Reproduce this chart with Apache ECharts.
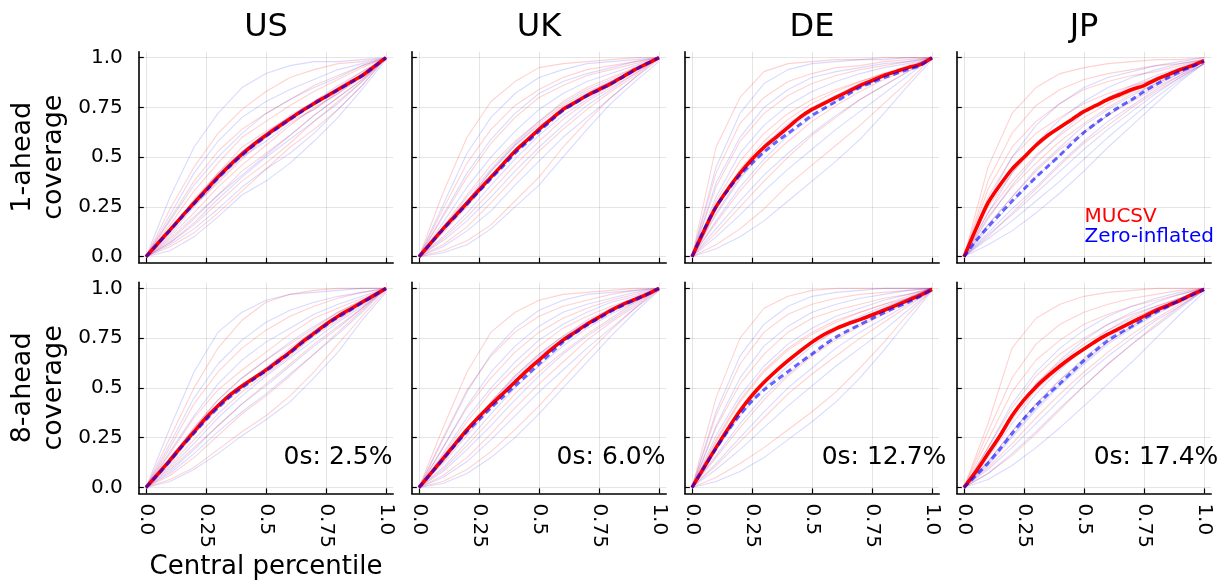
<!DOCTYPE html>
<html>
<head>
<meta charset="utf-8">
<script src="https://cdn.jsdelivr.net/npm/echarts@6/dist/echarts.min.js"></script>
<style>
  html, body { margin: 0; padding: 0; background: #ffffff; }
  #chart { width: 1226px; height: 585px; }
</style>
</head>
<body>
<div id="chart"></div>
<script>
// ---- labels ----
const countries = ['US', 'UK', 'DE', 'JP'];
const horizonNames = ['1-ahead\ncoverage', '8-ahead\ncoverage'];
const zeroShares = ['0s: 2.5%', '0s: 6.0%', '0s: 12.7%', '0s: 17.4%'];
const tickValues = [0, 0.25, 0.5, 0.75, 1];
const tickLabels = ['0.0', '0.25', '0.5', '0.75', '1.0'];
const seriesNames = ['MUCSV', 'Zero-inflated'];

// nominal central percentile grids
const meanGrid = [0, 0.05, 0.1, 0.15, 0.2, 0.25, 0.3, 0.35, 0.4, 0.45, 0.5, 0.55, 0.6, 0.65, 0.7, 0.75, 0.8, 0.85, 0.9, 0.95, 1];
const pathGrid = [0, 0.1, 0.2, 0.3, 0.4, 0.5, 0.6, 0.7, 0.8, 0.9, 1];

// ---- average empirical coverage, 1-step ahead ----
const usMucsv1 = [0, 0.068, 0.135, 0.203, 0.27, 0.335, 0.4, 0.46, 0.515, 0.565, 0.61, 0.652, 0.693, 0.733, 0.77, 0.805, 0.84, 0.875, 0.91, 0.955, 1.0];
const usZero1  = [0, 0.066, 0.132, 0.2, 0.266, 0.33, 0.395, 0.455, 0.51, 0.56, 0.605, 0.648, 0.69, 0.73, 0.768, 0.803, 0.838, 0.873, 0.908, 0.953, 1.0];
const ukMucsv1 = [0, 0.07, 0.14, 0.205, 0.27, 0.335, 0.4, 0.465, 0.53, 0.585, 0.64, 0.69, 0.74, 0.775, 0.81, 0.84, 0.87, 0.905, 0.94, 0.97, 1.0];
const ukZero1  = [0, 0.068, 0.137, 0.2, 0.264, 0.328, 0.392, 0.455, 0.52, 0.575, 0.63, 0.683, 0.735, 0.772, 0.808, 0.838, 0.868, 0.903, 0.938, 0.97, 1.0];
const deMucsv1 = [0, 0.13, 0.25, 0.34, 0.42, 0.49, 0.55, 0.6, 0.65, 0.7, 0.74, 0.77, 0.8, 0.83, 0.86, 0.885, 0.91, 0.93, 0.95, 0.965, 1.0];
const deZero1  = [0, 0.135, 0.25, 0.335, 0.41, 0.47, 0.525, 0.575, 0.62, 0.665, 0.71, 0.745, 0.78, 0.815, 0.85, 0.875, 0.9, 0.92, 0.94, 0.96, 1.0];
const jpMucsv1 = [0, 0.14, 0.27, 0.36, 0.44, 0.5, 0.56, 0.61, 0.65, 0.69, 0.73, 0.76, 0.79, 0.815, 0.84, 0.86, 0.89, 0.915, 0.94, 0.96, 0.985];
const jpZero1  = [0, 0.08, 0.15, 0.215, 0.28, 0.34, 0.4, 0.455, 0.51, 0.57, 0.625, 0.67, 0.715, 0.755, 0.79, 0.83, 0.865, 0.9, 0.93, 0.955, 0.98];

// ---- average empirical coverage, 8-step ahead ----
const usMucsv8 = [0, 0.068, 0.137, 0.21, 0.28, 0.35, 0.41, 0.465, 0.51, 0.55, 0.59, 0.635, 0.68, 0.73, 0.775, 0.82, 0.86, 0.895, 0.93, 0.965, 1.0];
const usZero8  = [0, 0.065, 0.133, 0.205, 0.272, 0.34, 0.4, 0.455, 0.5, 0.545, 0.585, 0.63, 0.675, 0.725, 0.77, 0.815, 0.855, 0.89, 0.928, 0.963, 1.0];
const ukMucsv8 = [0, 0.072, 0.145, 0.218, 0.29, 0.355, 0.415, 0.472, 0.53, 0.587, 0.64, 0.692, 0.74, 0.78, 0.82, 0.855, 0.89, 0.92, 0.945, 0.97, 1.0];
const ukZero8  = [0, 0.07, 0.141, 0.212, 0.28, 0.34, 0.4, 0.455, 0.51, 0.565, 0.62, 0.675, 0.73, 0.775, 0.815, 0.85, 0.885, 0.915, 0.942, 0.97, 1.0];
const deMucsv8 = [0, 0.1, 0.2, 0.295, 0.385, 0.462, 0.528, 0.585, 0.637, 0.685, 0.73, 0.768, 0.798, 0.822, 0.843, 0.866, 0.89, 0.915, 0.94, 0.965, 0.995];
const deZero8  = [0, 0.1, 0.195, 0.285, 0.365, 0.435, 0.49, 0.537, 0.582, 0.627, 0.67, 0.715, 0.755, 0.788, 0.818, 0.848, 0.878, 0.905, 0.93, 0.96, 0.995];
const jpMucsv8 = [0, 0.08, 0.17, 0.26, 0.36, 0.44, 0.505, 0.56, 0.61, 0.655, 0.695, 0.735, 0.77, 0.8, 0.83, 0.86, 0.89, 0.915, 0.94, 0.97, 0.995];
const jpZero8  = [0, 0.06, 0.122, 0.193, 0.27, 0.345, 0.41, 0.468, 0.522, 0.58, 0.638, 0.69, 0.738, 0.775, 0.81, 0.847, 0.88, 0.91, 0.94, 0.965, 0.995];

// ---- per-variable coverage paths, 1-step ahead ----
const usMucsvPaths1 = [
  [0, 0.24, 0.45, 0.62, 0.74, 0.83, 0.90, 0.94, 0.97, 0.98, 1],
  [0, 0.19, 0.38, 0.53, 0.64, 0.72, 0.79, 0.86, 0.91, 0.96, 1],
  [0, 0.16, 0.33, 0.47, 0.60, 0.68, 0.76, 0.83, 0.89, 0.95, 1],
  [0, 0.14, 0.26, 0.37, 0.49, 0.60, 0.68, 0.74, 0.83, 0.91, 1],
  [0, 0.10, 0.22, 0.35, 0.46, 0.56, 0.66, 0.75, 0.82, 0.90, 1],
  [0, 0.08, 0.19, 0.31, 0.43, 0.52, 0.61, 0.71, 0.80, 0.89, 1],
  [0, 0.07, 0.16, 0.27, 0.38, 0.47, 0.57, 0.68, 0.78, 0.88, 1],
  [0, 0.12, 0.29, 0.42, 0.55, 0.63, 0.70, 0.77, 0.85, 0.93, 0.99],
  [0, 0.05, 0.12, 0.22, 0.33, 0.44, 0.55, 0.64, 0.74, 0.86, 1]
];
const usZeroPaths1 = [
  [0, 0.30, 0.55, 0.72, 0.85, 0.92, 0.96, 0.98, 0.98, 0.99, 1],
  [0, 0.21, 0.42, 0.58, 0.70, 0.78, 0.84, 0.89, 0.94, 0.97, 1],
  [0, 0.18, 0.36, 0.50, 0.62, 0.72, 0.79, 0.85, 0.90, 0.96, 1],
  [0, 0.13, 0.28, 0.42, 0.53, 0.62, 0.71, 0.78, 0.86, 0.93, 1],
  [0, 0.11, 0.25, 0.38, 0.50, 0.58, 0.67, 0.74, 0.82, 0.91, 1],
  [0, 0.07, 0.17, 0.29, 0.40, 0.50, 0.59, 0.68, 0.77, 0.88, 1],
  [0, 0.06, 0.14, 0.24, 0.35, 0.44, 0.52, 0.62, 0.74, 0.86, 1],
  [0, 0.09, 0.20, 0.31, 0.41, 0.51, 0.61, 0.71, 0.80, 0.89, 1],
  [0, 0.03, 0.10, 0.20, 0.31, 0.38, 0.47, 0.58, 0.70, 0.84, 0.99]
];
const ukMucsvPaths1 = [
  [0, 0.32, 0.60, 0.78, 0.88, 0.95, 0.97, 0.98, 0.99, 1, 1],
  [0, 0.24, 0.47, 0.64, 0.76, 0.84, 0.90, 0.94, 0.96, 0.98, 1],
  [0, 0.20, 0.40, 0.57, 0.70, 0.80, 0.86, 0.91, 0.94, 0.97, 1],
  [0, 0.13, 0.28, 0.43, 0.56, 0.67, 0.76, 0.83, 0.88, 0.94, 1],
  [0, 0.12, 0.25, 0.40, 0.53, 0.65, 0.75, 0.82, 0.88, 0.94, 1],
  [0, 0.09, 0.20, 0.33, 0.46, 0.58, 0.69, 0.78, 0.85, 0.92, 1],
  [0, 0.06, 0.15, 0.27, 0.40, 0.53, 0.64, 0.74, 0.83, 0.91, 1],
  [0, 0.15, 0.31, 0.46, 0.58, 0.68, 0.78, 0.85, 0.90, 0.95, 1],
  [0, 0.03, 0.08, 0.16, 0.28, 0.40, 0.55, 0.68, 0.80, 0.90, 0.99]
];
const ukZeroPaths1 = [
  [0, 0.26, 0.52, 0.70, 0.82, 0.90, 0.94, 0.97, 0.98, 0.99, 1],
  [0, 0.21, 0.42, 0.59, 0.72, 0.82, 0.88, 0.92, 0.95, 0.98, 1],
  [0, 0.17, 0.35, 0.50, 0.63, 0.74, 0.82, 0.88, 0.92, 0.96, 1],
  [0, 0.14, 0.30, 0.44, 0.57, 0.68, 0.77, 0.84, 0.89, 0.95, 1],
  [0, 0.10, 0.22, 0.36, 0.49, 0.61, 0.71, 0.79, 0.86, 0.93, 1],
  [0, 0.08, 0.18, 0.30, 0.43, 0.55, 0.66, 0.76, 0.84, 0.92, 1],
  [0, 0.05, 0.13, 0.23, 0.36, 0.48, 0.60, 0.70, 0.80, 0.90, 1],
  [0, 0.13, 0.28, 0.43, 0.56, 0.66, 0.74, 0.82, 0.88, 0.94, 1],
  [0, 0.02, 0.06, 0.14, 0.25, 0.36, 0.50, 0.64, 0.77, 0.88, 0.98]
];
const deMucsvPaths1 = [
  [0, 0.55, 0.80, 0.93, 0.97, 0.98, 0.99, 0.99, 1, 1, 1],
  [0, 0.42, 0.67, 0.80, 0.88, 0.92, 0.95, 0.96, 0.98, 0.99, 1],
  [0, 0.35, 0.58, 0.72, 0.81, 0.87, 0.91, 0.94, 0.96, 0.98, 1],
  [0, 0.25, 0.44, 0.58, 0.69, 0.77, 0.83, 0.88, 0.92, 0.95, 1],
  [0, 0.22, 0.40, 0.54, 0.65, 0.74, 0.81, 0.87, 0.92, 0.96, 1],
  [0, 0.17, 0.33, 0.47, 0.58, 0.68, 0.76, 0.83, 0.89, 0.94, 1],
  [0, 0.12, 0.25, 0.38, 0.50, 0.61, 0.70, 0.79, 0.86, 0.93, 1],
  [0, 0.28, 0.48, 0.62, 0.72, 0.79, 0.84, 0.88, 0.92, 0.95, 0.99],
  [0, 0.06, 0.14, 0.24, 0.36, 0.46, 0.56, 0.66, 0.77, 0.88, 1]
];
const deZeroPaths1 = [
  [0, 0.45, 0.72, 0.87, 0.94, 0.97, 0.98, 0.99, 0.99, 1, 1],
  [0, 0.37, 0.60, 0.75, 0.84, 0.90, 0.93, 0.95, 0.97, 0.98, 1],
  [0, 0.30, 0.52, 0.66, 0.76, 0.83, 0.88, 0.92, 0.95, 0.97, 1],
  [0, 0.21, 0.39, 0.53, 0.64, 0.73, 0.80, 0.86, 0.91, 0.95, 1],
  [0, 0.18, 0.35, 0.49, 0.61, 0.70, 0.78, 0.85, 0.90, 0.95, 1],
  [0, 0.14, 0.28, 0.41, 0.52, 0.62, 0.71, 0.79, 0.86, 0.93, 1],
  [0, 0.10, 0.21, 0.33, 0.44, 0.54, 0.64, 0.73, 0.82, 0.91, 1],
  [0, 0.24, 0.42, 0.56, 0.67, 0.75, 0.81, 0.87, 0.91, 0.95, 1],
  [0, 0.04, 0.10, 0.18, 0.28, 0.38, 0.48, 0.59, 0.72, 0.86, 0.99]
];
const jpMucsvPaths1 = [
  [0, 0.45, 0.72, 0.85, 0.92, 0.95, 0.97, 0.98, 0.99, 0.99, 1],
  [0, 0.38, 0.62, 0.76, 0.84, 0.89, 0.92, 0.94, 0.96, 0.97, 0.99],
  [0, 0.34, 0.55, 0.68, 0.77, 0.84, 0.88, 0.91, 0.93, 0.96, 0.99],
  [0, 0.25, 0.42, 0.55, 0.65, 0.73, 0.80, 0.85, 0.90, 0.94, 0.98],
  [0, 0.22, 0.38, 0.51, 0.61, 0.70, 0.77, 0.83, 0.88, 0.93, 0.98],
  [0, 0.20, 0.35, 0.47, 0.58, 0.67, 0.75, 0.82, 0.87, 0.92, 0.98],
  [0, 0.16, 0.30, 0.43, 0.54, 0.63, 0.71, 0.78, 0.85, 0.91, 0.97],
  [0, 0.30, 0.50, 0.62, 0.70, 0.77, 0.82, 0.86, 0.89, 0.93, 0.98],
  [0, 0.10, 0.22, 0.34, 0.46, 0.57, 0.66, 0.75, 0.83, 0.90, 0.97]
];
const jpZeroPaths1 = [
  [0, 0.28, 0.50, 0.66, 0.77, 0.85, 0.90, 0.93, 0.96, 0.98, 1],
  [0, 0.22, 0.42, 0.57, 0.69, 0.78, 0.85, 0.90, 0.94, 0.97, 0.99],
  [0, 0.19, 0.36, 0.50, 0.62, 0.72, 0.80, 0.86, 0.91, 0.95, 0.99],
  [0, 0.16, 0.30, 0.44, 0.55, 0.66, 0.74, 0.81, 0.87, 0.93, 0.98],
  [0, 0.14, 0.27, 0.40, 0.51, 0.62, 0.71, 0.79, 0.86, 0.92, 0.98],
  [0, 0.11, 0.21, 0.32, 0.43, 0.54, 0.64, 0.73, 0.82, 0.90, 0.97],
  [0, 0.09, 0.18, 0.28, 0.38, 0.49, 0.60, 0.70, 0.80, 0.89, 0.97],
  [0, 0.12, 0.24, 0.35, 0.47, 0.58, 0.68, 0.76, 0.84, 0.91, 0.98],
  [0, 0.06, 0.13, 0.22, 0.32, 0.43, 0.55, 0.66, 0.77, 0.88, 0.97]
];

// ---- per-variable coverage paths, 8-step ahead ----
const usMucsvPaths8 = [
  [0, 0.25, 0.50, 0.70, 0.84, 0.93, 0.97, 0.99, 1, 1, 1],
  [0, 0.20, 0.42, 0.58, 0.70, 0.79, 0.86, 0.91, 0.95, 0.98, 1],
  [0, 0.17, 0.35, 0.49, 0.59, 0.68, 0.77, 0.85, 0.90, 0.95, 1],
  [0, 0.13, 0.27, 0.40, 0.50, 0.59, 0.68, 0.78, 0.86, 0.93, 1],
  [0, 0.11, 0.24, 0.37, 0.48, 0.57, 0.66, 0.76, 0.84, 0.92, 1],
  [0, 0.09, 0.20, 0.31, 0.42, 0.52, 0.62, 0.72, 0.81, 0.90, 1],
  [0, 0.06, 0.15, 0.26, 0.37, 0.46, 0.56, 0.67, 0.78, 0.89, 1],
  [0, 0.14, 0.30, 0.44, 0.55, 0.64, 0.72, 0.80, 0.88, 0.94, 1],
  [0, 0.04, 0.10, 0.19, 0.28, 0.36, 0.46, 0.58, 0.72, 0.86, 0.99]
];
const usZeroPaths8 = [
  [0, 0.30, 0.58, 0.78, 0.88, 0.94, 0.97, 0.98, 0.99, 1, 1],
  [0, 0.22, 0.45, 0.62, 0.74, 0.83, 0.89, 0.93, 0.96, 0.98, 1],
  [0, 0.18, 0.36, 0.52, 0.64, 0.73, 0.80, 0.87, 0.92, 0.96, 1],
  [0, 0.15, 0.30, 0.44, 0.55, 0.64, 0.73, 0.81, 0.88, 0.94, 1],
  [0, 0.10, 0.22, 0.35, 0.46, 0.56, 0.65, 0.74, 0.83, 0.91, 1],
  [0, 0.08, 0.19, 0.31, 0.42, 0.51, 0.61, 0.71, 0.80, 0.90, 1],
  [0, 0.07, 0.17, 0.28, 0.38, 0.47, 0.57, 0.67, 0.77, 0.88, 1],
  [0, 0.12, 0.27, 0.40, 0.51, 0.60, 0.70, 0.79, 0.86, 0.93, 1],
  [0, 0.03, 0.09, 0.17, 0.26, 0.34, 0.43, 0.55, 0.68, 0.84, 0.98]
];
const ukMucsvPaths8 = [
  [0, 0.30, 0.58, 0.78, 0.88, 0.94, 0.97, 0.98, 0.99, 1, 1],
  [0, 0.25, 0.49, 0.66, 0.78, 0.86, 0.91, 0.94, 0.97, 0.99, 1],
  [0, 0.20, 0.40, 0.55, 0.68, 0.78, 0.85, 0.90, 0.94, 0.97, 1],
  [0, 0.14, 0.29, 0.43, 0.56, 0.67, 0.76, 0.83, 0.89, 0.95, 1],
  [0, 0.12, 0.26, 0.40, 0.53, 0.64, 0.74, 0.82, 0.88, 0.94, 1],
  [0, 0.09, 0.21, 0.34, 0.47, 0.58, 0.68, 0.77, 0.85, 0.93, 1],
  [0, 0.06, 0.15, 0.27, 0.40, 0.52, 0.63, 0.74, 0.83, 0.91, 1],
  [0, 0.16, 0.33, 0.48, 0.60, 0.71, 0.80, 0.86, 0.91, 0.95, 1],
  [0, 0.03, 0.09, 0.18, 0.29, 0.41, 0.54, 0.67, 0.79, 0.90, 0.99]
];
const ukZeroPaths8 = [
  [0, 0.24, 0.48, 0.67, 0.80, 0.89, 0.94, 0.97, 0.98, 0.99, 1],
  [0, 0.20, 0.41, 0.58, 0.71, 0.81, 0.88, 0.92, 0.95, 0.98, 1],
  [0, 0.17, 0.35, 0.50, 0.63, 0.74, 0.82, 0.88, 0.93, 0.96, 1],
  [0, 0.13, 0.28, 0.42, 0.55, 0.66, 0.75, 0.83, 0.89, 0.95, 1],
  [0, 0.10, 0.23, 0.37, 0.50, 0.61, 0.71, 0.80, 0.87, 0.93, 1],
  [0, 0.08, 0.19, 0.31, 0.44, 0.56, 0.67, 0.76, 0.84, 0.92, 1],
  [0, 0.05, 0.13, 0.24, 0.36, 0.48, 0.59, 0.70, 0.80, 0.90, 1],
  [0, 0.13, 0.28, 0.43, 0.56, 0.67, 0.76, 0.84, 0.90, 0.95, 1],
  [0, 0.02, 0.07, 0.15, 0.25, 0.37, 0.50, 0.63, 0.76, 0.88, 0.99]
];
const deMucsvPaths8 = [
  [0, 0.45, 0.75, 0.90, 0.96, 0.99, 1, 1, 1, 1, 1],
  [0, 0.36, 0.62, 0.78, 0.87, 0.92, 0.95, 0.97, 0.98, 0.99, 1],
  [0, 0.30, 0.52, 0.67, 0.78, 0.85, 0.89, 0.92, 0.95, 0.97, 1],
  [0, 0.23, 0.43, 0.58, 0.69, 0.77, 0.83, 0.88, 0.92, 0.96, 1],
  [0, 0.20, 0.38, 0.52, 0.63, 0.72, 0.79, 0.85, 0.90, 0.95, 1],
  [0, 0.15, 0.30, 0.44, 0.56, 0.66, 0.74, 0.81, 0.87, 0.93, 0.99],
  [0, 0.11, 0.23, 0.35, 0.47, 0.57, 0.66, 0.75, 0.83, 0.91, 0.99],
  [0, 0.24, 0.44, 0.59, 0.70, 0.78, 0.84, 0.88, 0.92, 0.95, 1],
  [0, 0.05, 0.12, 0.20, 0.29, 0.38, 0.48, 0.60, 0.73, 0.87, 0.99]
];
const deZeroPaths8 = [
  [0, 0.38, 0.66, 0.82, 0.91, 0.96, 0.98, 0.99, 1, 1, 1],
  [0, 0.31, 0.55, 0.71, 0.81, 0.88, 0.92, 0.95, 0.97, 0.99, 1],
  [0, 0.26, 0.46, 0.61, 0.72, 0.80, 0.86, 0.90, 0.94, 0.97, 1],
  [0, 0.19, 0.36, 0.50, 0.61, 0.71, 0.79, 0.85, 0.90, 0.95, 1],
  [0, 0.16, 0.32, 0.46, 0.57, 0.67, 0.75, 0.82, 0.88, 0.94, 1],
  [0, 0.12, 0.25, 0.38, 0.50, 0.60, 0.70, 0.78, 0.85, 0.92, 0.99],
  [0, 0.09, 0.19, 0.30, 0.41, 0.51, 0.61, 0.70, 0.79, 0.89, 0.99],
  [0, 0.20, 0.38, 0.52, 0.64, 0.73, 0.80, 0.86, 0.91, 0.95, 1],
  [0, 0.03, 0.08, 0.15, 0.24, 0.33, 0.43, 0.55, 0.69, 0.84, 0.99]
];
const jpMucsvPaths8 = [
  [0, 0.32, 0.70, 0.85, 0.92, 0.96, 0.98, 0.99, 1, 1, 1],
  [0, 0.28, 0.55, 0.72, 0.82, 0.88, 0.92, 0.95, 0.97, 0.99, 1],
  [0, 0.24, 0.48, 0.64, 0.74, 0.82, 0.87, 0.91, 0.94, 0.97, 1],
  [0, 0.18, 0.36, 0.52, 0.63, 0.72, 0.79, 0.85, 0.90, 0.95, 0.99],
  [0, 0.16, 0.34, 0.49, 0.60, 0.69, 0.77, 0.84, 0.90, 0.94, 0.99],
  [0, 0.13, 0.28, 0.42, 0.54, 0.64, 0.73, 0.81, 0.88, 0.93, 0.99],
  [0, 0.10, 0.22, 0.35, 0.47, 0.58, 0.68, 0.77, 0.85, 0.92, 0.99],
  [0, 0.20, 0.40, 0.56, 0.67, 0.75, 0.82, 0.87, 0.91, 0.95, 1],
  [0, 0.07, 0.16, 0.27, 0.39, 0.51, 0.62, 0.72, 0.82, 0.91, 0.99]
];
const jpZeroPaths8 = [
  [0, 0.20, 0.42, 0.58, 0.70, 0.79, 0.86, 0.91, 0.95, 0.98, 1],
  [0, 0.17, 0.36, 0.52, 0.64, 0.74, 0.82, 0.88, 0.93, 0.97, 1],
  [0, 0.15, 0.32, 0.47, 0.59, 0.70, 0.79, 0.86, 0.91, 0.95, 1],
  [0, 0.12, 0.26, 0.40, 0.52, 0.63, 0.73, 0.81, 0.88, 0.94, 0.99],
  [0, 0.11, 0.25, 0.39, 0.51, 0.62, 0.72, 0.80, 0.87, 0.93, 0.99],
  [0, 0.09, 0.20, 0.32, 0.44, 0.56, 0.66, 0.75, 0.84, 0.91, 0.99],
  [0, 0.07, 0.17, 0.28, 0.40, 0.51, 0.62, 0.72, 0.81, 0.90, 0.99],
  [0, 0.13, 0.28, 0.42, 0.54, 0.65, 0.75, 0.83, 0.89, 0.94, 0.99],
  [0, 0.04, 0.11, 0.20, 0.30, 0.41, 0.52, 0.63, 0.75, 0.87, 0.98]
];

// panel order: row 0 = 1-ahead, row 1 = 8-ahead; columns follow countries
const panels = [
  { mucsv: usMucsv1, zero: usZero1, mucsvPaths: usMucsvPaths1, zeroPaths: usZeroPaths1 },
  { mucsv: ukMucsv1, zero: ukZero1, mucsvPaths: ukMucsvPaths1, zeroPaths: ukZeroPaths1 },
  { mucsv: deMucsv1, zero: deZero1, mucsvPaths: deMucsvPaths1, zeroPaths: deZeroPaths1 },
  { mucsv: jpMucsv1, zero: jpZero1, mucsvPaths: jpMucsvPaths1, zeroPaths: jpZeroPaths1 },
  { mucsv: usMucsv8, zero: usZero8, mucsvPaths: usMucsvPaths8, zeroPaths: usZeroPaths8 },
  { mucsv: ukMucsv8, zero: ukZero8, mucsvPaths: ukMucsvPaths8, zeroPaths: ukZeroPaths8 },
  { mucsv: deMucsv8, zero: deZero8, mucsvPaths: deMucsvPaths8, zeroPaths: deZeroPaths8 },
  { mucsv: jpMucsv8, zero: jpZero8, mucsvPaths: jpMucsvPaths8, zeroPaths: jpZeroPaths8 }
];

// ---- layout ----
const FONT = '"DejaVu Sans", sans-serif';
const RED = '#ff0000';
const BLUE = '#0000ff';
const colLeft = [138.8, 411.8, 684.8, 956.8];
const rowTop = [51.7, 282.4];
const panelW = 254.4;
const panelH = 211;

const grids = [], xAxes = [], yAxes = [], series = [];
const fmtTick = v => tickLabels[tickValues.indexOf(v)] ?? String(v);

panels.forEach((p, i) => {
  const row = Math.floor(i / 4), col = i % 4;
  grids.push({ left: colLeft[col], top: rowTop[row], width: panelW, height: panelH, containLabel: false });
  const axisBase = {
    type: 'value', gridIndex: i, min: -0.03, max: 1.03,
    axisLine: { show: true, onZero: false, lineStyle: { color: '#000', width: 1.6 } },
    axisTick: { show: true, inside: true, length: 5, customValues: tickValues, lineStyle: { color: '#000', width: 1.2 } },
    splitLine: { show: true, lineStyle: { color: 'rgba(0,0,0,0.1)', width: 1 } },
    axisLabel: { customValues: tickValues, formatter: fmtTick, fontFamily: FONT, fontSize: 20, color: '#000' }
  };
  xAxes.push(Object.assign({}, axisBase, {
    position: 'bottom',
    axisLabel: Object.assign({}, axisBase.axisLabel, { show: row === 1, rotate: -90, margin: 10 })
  }));
  yAxes.push(Object.assign({}, axisBase, {
    position: 'left',
    axisLabel: Object.assign({}, axisBase.axisLabel, { show: col === 0, margin: 16 })
  }));

  const line = (values, grid, style, z, smooth) => ({
    type: 'line', xAxisIndex: i, yAxisIndex: i, z: z,
    data: grid.map((x, k) => [x, values[k]]),
    symbol: 'none', silent: true, animation: false, smooth: smooth || false,
    lineStyle: style
  });
  p.mucsvPaths.forEach(v => series.push(line(v, pathGrid, { color: 'rgba(255,0,0,0.18)', width: 1.1 }, 1)));
  p.zeroPaths.forEach(v => series.push(line(v, pathGrid, { color: 'rgba(0,0,255,0.15)', width: 1.1 }, 1)));
  series.push(line(p.mucsv, meanGrid, { color: RED, width: 3.6 }, 3, 0.3));
  series.push(line(p.zero, meanGrid, { color: 'rgba(0,0,255,0.6)', width: 3, type: [6, 4] }, 4, 0.3));

  if (row === 1) {
    series.push({
      type: 'scatter', xAxisIndex: i, yAxisIndex: i, z: 6, silent: true, animation: false,
      data: [[0.8, 0.15]], symbolSize: 1, itemStyle: { color: 'rgba(0,0,0,0)', opacity: 1 },
      label: { show: true, position: 'inside', formatter: zeroShares[col], fontFamily: FONT, fontSize: 25, color: '#000', opacity: 1 }
    });
  }
  if (i === 3) {
    [[0.5, 0.2, RED, seriesNames[0]], [0.5, 0.1, BLUE, seriesNames[1]]].forEach(([x, y, c, name]) => {
      series.push({
        type: 'scatter', xAxisIndex: i, yAxisIndex: i, z: 6, silent: true, animation: false,
        data: [[x, y]], symbolSize: 1, itemStyle: { color: 'rgba(0,0,0,0)', opacity: 1 },
        label: { show: true, position: 'right', distance: 0, formatter: name, fontFamily: FONT, fontSize: 20, color: c, opacity: 1 }
      });
    });
  }
});

// ---- free text: panel titles, row names, x-axis name ----
const graphics = [];
countries.forEach((name, col) => {
  graphics.push({
    type: 'text', x: colLeft[col] + panelW / 2, y: 28,
    style: { text: name, font: '32px ' + FONT, fill: '#000', textAlign: 'center', textVerticalAlign: 'middle' }
  });
});
horizonNames.forEach((name, row) => {
  graphics.push({
    type: 'text', x: 38, y: rowTop[row] + panelH / 2, rotation: Math.PI / 2,
    style: { text: name, font: '27px ' + FONT, fill: '#000', textAlign: 'center', textVerticalAlign: 'middle', lineHeight: 31 }
  });
});
graphics.push({
  type: 'text', x: colLeft[0] + panelW / 2, y: 567,
  style: { text: 'Central percentile', font: '26px ' + FONT, fill: '#000', textAlign: 'center', textVerticalAlign: 'middle' }
});

const chart = echarts.init(document.getElementById('chart'), null, { renderer: 'canvas' });
chart.setOption({
  backgroundColor: '#ffffff',
  animation: false,
  grid: grids,
  xAxis: xAxes,
  yAxis: yAxes,
  series: series,
  graphic: graphics
});
</script>
</body>
</html>
